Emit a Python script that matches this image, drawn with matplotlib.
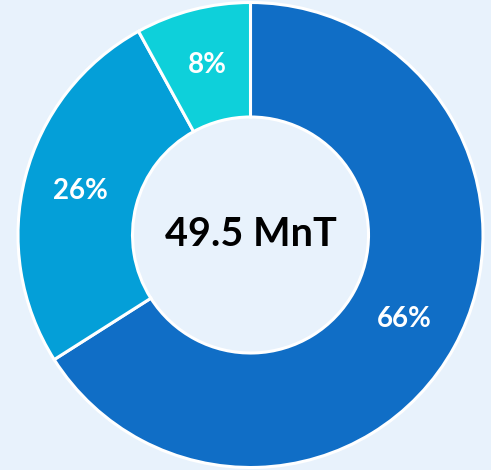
import matplotlib.pyplot as plt

# dane
labels = ['A', 'B', 'C']
values = [66, 26, 8]
colors = ['#106EC6', '#049FD8', '#0ED0DA']
center_text = '49.5 MnT'

bg = '#E8F2FC'

fig = plt.figure(figsize=(4.91, 4.70), dpi=100)
fig.patch.set_facecolor(bg)
ax = fig.add_axes([0, 0, 1, 1])
ax.set_facecolor(bg)

r_px = 232.5
cx, cy = 250.5, 235
inner = 118 / r_px

wedges, texts, autotexts = ax.pie(
    values, colors=colors, startangle=90, counterclock=False,
    radius=1, autopct='%.0f%%', pctdistance=1 - (1 - inner) / 2,
    wedgeprops=dict(width=1 - inner, edgecolor='white', linewidth=2.2),
    textprops=dict(color='white', fontsize=20, fontweight='bold', family='Lato'))

ax.text(0, 0.0, center_text, ha='center', va='center', fontsize=28.5,
        fontweight='bold', family='Lato', color='black')

ax.set_xlim(-cx / r_px, (491 - cx) / r_px)
ax.set_ylim(-(470 - cy) / r_px, cy / r_px)
ax.set_aspect('auto')
ax.axis('off')

plt.savefig('out.png', dpi=100, facecolor=bg)
